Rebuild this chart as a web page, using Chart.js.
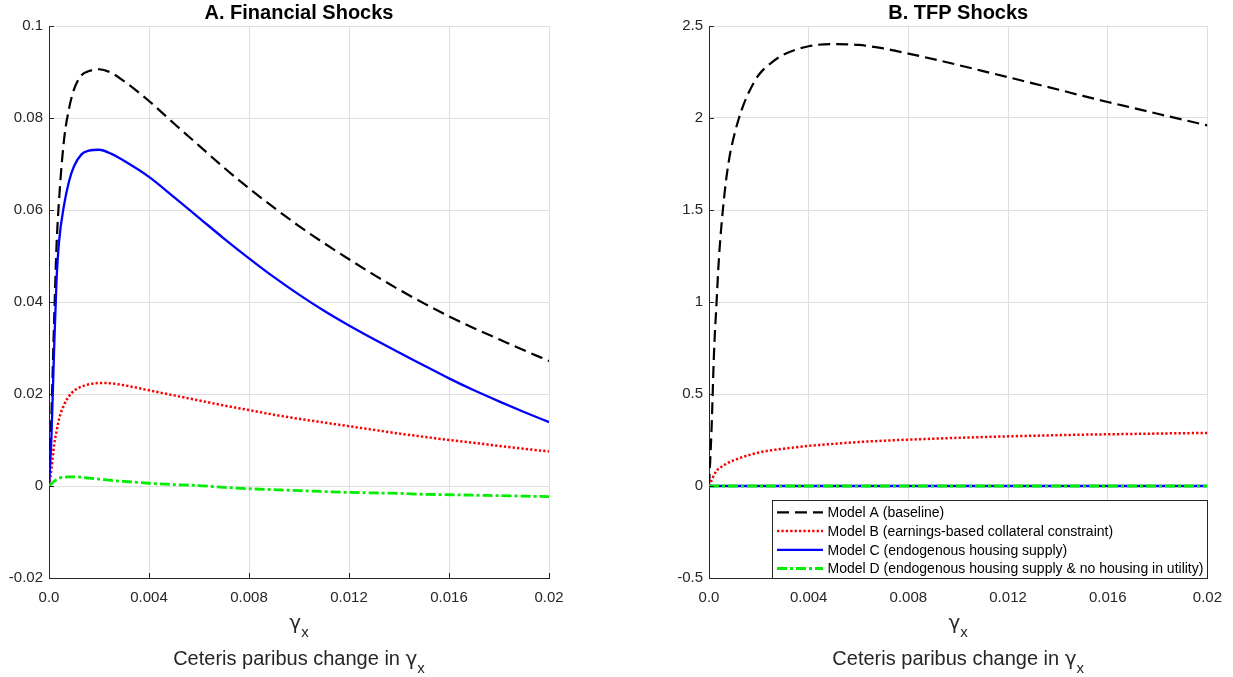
<!DOCTYPE html>
<html>
<head>
<meta charset="utf-8">
<script src="https://cdn.jsdelivr.net/npm/chart.js@4/dist/chart.umd.min.js"></script>
<style>
  html, body { margin: 0; padding: 0; background: #ffffff; }
  #wrap { position: relative; width: 1233px; height: 677px; overflow: hidden; }
  .panel { position: absolute; top: 0; width: 616px; height: 677px; }
</style>
</head>
<body>
<div id="wrap">
  <div class="panel" style="left:0px"><canvas id="chartA"></canvas></div>
  <div class="panel" style="left:617px"><canvas id="chartB"></canvas></div>
</div>
<script>
// ---- data ----
const gammaX = [0, 0.0001, 0.0002, 0.0003, 0.0004, 0.0006, 0.0008, 0.001, 0.0013, 0.0016,
  0.002, 0.0025, 0.003, 0.004, 0.005, 0.006, 0.007, 0.008, 0.009, 0.010,
  0.011, 0.012, 0.013, 0.014, 0.015, 0.016, 0.017, 0.018, 0.019, 0.020];

// Panel A: financial shocks
const finModelA = [0, 0.016, 0.035, 0.052, 0.062, 0.0752, 0.082, 0.0862, 0.0893, 0.0902,
  0.0906, 0.0898, 0.0880, 0.0837, 0.0788, 0.0740, 0.0692, 0.0647, 0.0605, 0.0565,
  0.0528, 0.0493, 0.0459, 0.0427, 0.0397, 0.0369, 0.0343, 0.0319, 0.0295, 0.0272];
const finModelB = [0, 0.0038, 0.0088, 0.0118, 0.0145, 0.0176, 0.0195, 0.0207, 0.0216, 0.0221,
  0.0224, 0.0223, 0.0219, 0.0208, 0.0197, 0.0186, 0.0175, 0.0165, 0.0155, 0.0146,
  0.0138, 0.0130, 0.0122, 0.0114, 0.0107, 0.0100, 0.0094, 0.0087, 0.0081, 0.0075];
const finModelC = [0, 0.011, 0.029, 0.0445, 0.053, 0.061, 0.0662, 0.0695, 0.0721, 0.0729,
  0.0731, 0.0722, 0.0707, 0.0672, 0.0628, 0.0583, 0.0538, 0.0495, 0.0454, 0.0416,
  0.0381, 0.0349, 0.0319, 0.0290, 0.0262, 0.0234, 0.0208, 0.0184, 0.0161, 0.0139];
const finModelD = [0, 0.0005, 0.001, 0.0014, 0.0017, 0.0019, 0.002, 0.002, 0.0019, 0.0017,
  0.0015, 0.0012, 0.001, 0.0006, 0.0003, 0.0001, -0.0003, -0.0006, -0.0008, -0.001,
  -0.0012, -0.0014, -0.0015, -0.0016, -0.0018, -0.0019, -0.002, -0.0021, -0.0022, -0.0023];

// Panel B: TFP shocks
const tfpModelA = [0, 0.3, 0.72, 0.99, 1.24, 1.56, 1.77, 1.9, 2.04, 2.14,
  2.235, 2.3, 2.345, 2.39, 2.402, 2.397, 2.378, 2.35, 2.32, 2.288,
  2.255, 2.222, 2.188, 2.155, 2.12, 2.087, 2.055, 2.023, 1.991, 1.96];
const tfpModelB = [0, 0.03, 0.06, 0.082, 0.095, 0.113, 0.128, 0.141, 0.155, 0.168,
  0.182, 0.194, 0.203, 0.218, 0.229, 0.239, 0.246, 0.252, 0.257, 0.262,
  0.266, 0.27, 0.273, 0.276, 0.279, 0.281, 0.283, 0.285, 0.287, 0.288];
const tfpModelC = [0, 0, 0, 0, 0, 0, 0, 0, 0, 0,
  0, 0, 0, 0, 0, 0, 0, 0, 0, 0,
  0, 0, 0, 0, 0, 0, 0, 0, 0, 0];
const tfpModelD = [0, 0, 0, 0, 0, 0, 0, 0, 0, 0,
  0, 0, 0, 0, 0, 0, 0, 0, 0, 0,
  0, 0, 0, 0, 0, 0, 0, 0, 0, 0];

const seriesNames = [
  'Model A (baseline)',
  'Model B (earnings-based collateral constraint)',
  'Model C (endogenous housing supply)',
  'Model D (endogenous housing supply & no housing in utility)'
];

const xTickValues = [0, 0.004, 0.008, 0.012, 0.016, 0.02];
const xTickLabels = ['0.0', '0.004', '0.008', '0.012', '0.016', '0.02'];
const yTickValuesA = [-0.02, 0, 0.02, 0.04, 0.06, 0.08, 0.1];
const yTickLabelsA = ['-0.02', '0', '0.02', '0.04', '0.06', '0.08', '0.1'];
const yTickValuesB = [-0.5, 0, 0.5, 1, 1.5, 2, 2.5];
const yTickLabelsB = ['-0.5', '0', '0.5', '1', '1.5', '2', '2.5'];

const titleA = 'A. Financial Shocks';
const titleB = 'B. TFP Shocks';
const xLabelSymbol = 'γ';
const xLabelSub = 'x';
const xLabelText = 'Ceteris paribus change in ';

// ---- styling ----
const FONT = "'Liberation Sans', Arial, Helvetica, sans-serif";
const SYMBOL_FONT = "'DejaVu Sans', sans-serif";
const AXIS_COLOR = '#262626';
const GRID_COLOR = '#dfdfdf';

const lineStyles = [
  { color: '#000000', width: 2.2, dash: [12, 6] },
  { color: '#ff0000', width: 2.5, dash: [2.3, 2.1] },
  { color: '#0000ff', width: 2.3, dash: [] },
  { color: '#00ee00', width: 2.8, dash: [10, 3, 3, 3] }
];

function makeDatasets(seriesList) {
  return seriesList.map((vals, i) => ({
    label: seriesNames[i],
    data: gammaX.map((x, k) => ({ x: x, y: vals[k] })),
    borderColor: lineStyles[i].color,
    borderWidth: lineStyles[i].width,
    borderDash: lineStyles[i].dash,
    borderCapStyle: 'butt',
    pointRadius: 0,
    fill: false,
    cubicInterpolationMode: 'monotone',
    order: seriesList.length - i   // later series drawn on top
  }));
}

// Title, inward tick marks and two-line x label drawn on the canvas
const panelDecor = {
  id: 'panelDecor',
  afterDraw(chart, args, opts) {
    const ctx = chart.ctx;
    const ca = chart.chartArea;
    const cx = (ca.left + ca.right) / 2;
    ctx.save();

    // inward tick marks on left and bottom axes
    ctx.strokeStyle = AXIS_COLOR;
    ctx.lineWidth = 1;
    ctx.beginPath();
    const xs = chart.scales.x, ys = chart.scales.y;
    xs.ticks.forEach(t => {
      const px = Math.round(xs.getPixelForValue(t.value)) + 0.5;
      ctx.moveTo(px, ca.bottom);
      ctx.lineTo(px, ca.bottom - 5);
    });
    ys.ticks.forEach(t => {
      const py = Math.round(ys.getPixelForValue(t.value)) + 0.5;
      ctx.moveTo(ca.left, py);
      ctx.lineTo(ca.left + 5, py);
    });
    ctx.stroke();

    // panel title
    ctx.fillStyle = '#000000';
    ctx.font = 'bold 20px ' + FONT;
    ctx.textAlign = 'center';
    ctx.textBaseline = 'alphabetic';
    ctx.fillText(opts.title, cx, 19);

    // x label: symbol line, then descriptive line
    ctx.fillStyle = AXIS_COLOR;
    ctx.textAlign = 'left';
    const drawWithSub = (mainText, baseY) => {
      const mainFont = '20px ' + FONT;
      const symFont = '20px ' + SYMBOL_FONT;
      const subFont = '15px ' + FONT;
      ctx.font = mainFont;
      const wMain = mainText ? ctx.measureText(mainText).width : 0;
      ctx.font = symFont;
      const wSym = ctx.measureText(xLabelSymbol).width;
      ctx.font = subFont;
      const wSub = ctx.measureText(xLabelSub).width;
      const x0 = cx - (wMain + wSym + wSub) / 2;
      if (mainText) {
        ctx.font = mainFont;
        ctx.fillText(mainText, x0, baseY);
      }
      ctx.font = symFont;
      ctx.fillText(xLabelSymbol, x0 + wMain, baseY);
      ctx.font = subFont;
      ctx.fillText(xLabelSub, x0 + wMain + wSym, baseY + 8);
    };
    drawWithSub('', 629);
    drawWithSub(xLabelText, 665);
    ctx.restore();
  }
};

// Boxed legend in the lower-right corner of the plot area
const cornerLegend = {
  id: 'cornerLegend',
  afterDraw(chart, args, opts) {
    if (!opts.show) return;
    const ctx = chart.ctx;
    const ca = chart.chartArea;
    const dsets = chart.data.datasets;
    ctx.save();
    ctx.font = '14px ' + FONT;
    const textW = Math.max(...dsets.map(d => ctx.measureText(d.label).width));
    const padL = 5.5, sample = 46, gap = 4.5, padR = 4, rowH = 18.7, topOff = 12.6;
    const boxW = padL + sample + gap + textW + padR;
    const boxH = topOff + rowH * (dsets.length - 1) + 9.5;
    const right = ca.right, bottom = ca.bottom;
    const left = right - boxW, top = bottom - boxH;
    ctx.fillStyle = '#ffffff';
    ctx.fillRect(left, top, boxW, boxH);
    ctx.strokeStyle = AXIS_COLOR;
    ctx.lineWidth = 1;
    ctx.strokeRect(Math.round(left) + 0.5, Math.round(top) + 0.5, Math.round(boxW) - 1, Math.round(boxH));
    dsets.forEach((d, i) => {
      const y = top + topOff + i * rowH;
      ctx.beginPath();
      ctx.setLineDash(d.borderDash || []);
      ctx.strokeStyle = d.borderColor;
      ctx.lineWidth = d.borderWidth;
      ctx.lineCap = 'butt';
      ctx.moveTo(left + padL, y);
      ctx.lineTo(left + padL + sample, y);
      ctx.stroke();
      ctx.setLineDash([]);
      ctx.fillStyle = '#000000';
      ctx.textAlign = 'left';
      ctx.textBaseline = 'middle';
      ctx.fillText(d.label, left + padL + sample + gap, y + 1);
    });
    ctx.restore();
  }
};

function buildChart(canvasId, seriesList, yMin, yMax, yVals, yLabels, yAxisWidth, padRight, title, withLegend) {
  return new Chart(document.getElementById(canvasId), {
    type: 'line',
    data: { datasets: makeDatasets(seriesList) },
    options: {
      responsive: true,
      maintainAspectRatio: false,
      animation: false,
      devicePixelRatio: 1,
      layout: { padding: { left: 0, right: padRight, top: 26, bottom: 0 } },
      plugins: {
        legend: { display: false },
        tooltip: { enabled: false },
        title: { display: false },
        panelDecor: { title: title },
        cornerLegend: { show: withLegend }
      },
      scales: {
        x: {
          type: 'linear',
          min: 0, max: 0.02,
          afterBuildTicks: s => { s.ticks = xTickValues.map(v => ({ value: v })); },
          afterFit: s => { s.height = 99; },
          grid: { color: GRID_COLOR, lineWidth: 1, drawTicks: false },
          border: { display: true, color: AXIS_COLOR, width: 1 },
          ticks: {
            color: AXIS_COLOR,
            font: { family: FONT, size: 15 },
            padding: 11,
            maxRotation: 0,
            autoSkip: false,
            callback: (v, i) => xTickLabels[i]
          }
        },
        y: {
          type: 'linear',
          min: yMin, max: yMax,
          afterBuildTicks: s => { s.ticks = yVals.map(v => ({ value: v })); },
          afterFit: s => { s.width = yAxisWidth; },
          grid: { color: GRID_COLOR, lineWidth: 1, drawTicks: false },
          border: { display: true, color: AXIS_COLOR, width: 1 },
          ticks: {
            color: AXIS_COLOR,
            font: { family: FONT, size: 15 },
            padding: 6,
            autoSkip: false,
            callback: (v, i) => yLabels[i]
          }
        }
      }
    },
    plugins: [panelDecor, cornerLegend]
  });
}

buildChart('chartA', [finModelA, finModelB, finModelC, finModelD], -0.02, 0.1,
  yTickValuesA, yTickLabelsA, 49, 67, titleA, false);
buildChart('chartB', [tfpModelA, tfpModelB, tfpModelC, tfpModelD], -0.5, 2.5,
  yTickValuesB, yTickLabelsB, 92, 24, titleB, true);
</script>
</body>
</html>
